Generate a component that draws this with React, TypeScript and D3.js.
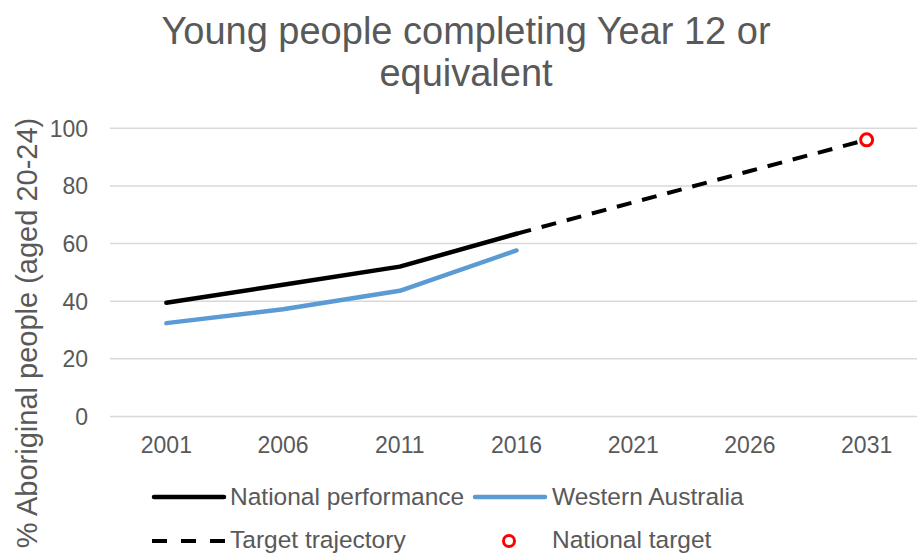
import React from 'react';
import * as d3 from 'd3';

// chart values
const years = ['2001', '2006', '2011', '2016', '2021', '2026', '2031'];
const nationalYears = ['2001', '2006', '2011', '2016'];
const nationalPerformance = [39.5, 45.7, 52.0, 63.4];
const westernAustralia = [32.4, 37.2, 43.6, 57.6];
const targetYears = ['2016', '2021', '2026', '2031'];
const targetTrajectory = [63.4, 74.3, 85.2, 96.0];
const nationalTargetYear = '2031';
const nationalTarget = 96.0;
const yTicks = [0, 20, 40, 60, 80, 100];

const titleLines = ['Young people completing Year 12 or', 'equivalent'];
const yTitle = '% Aboriginal people (aged 20-24)';

const width = 917;
const height = 555;
const font = '"Liberation Sans", Arial, sans-serif';
const textColor = '#595959';

const App: React.FC = () => {
  const x = d3.scaleBand<string>().domain(years).range([108, 925]);
  const y = d3.scaleLinear().domain([0, 100]).range([416.5, 128.3]);
  const cx = (yr: string) => (x(yr) ?? 0) + x.bandwidth() / 2;

  const line = d3.line<[string, number]>()
    .x(d => cx(d[0]))
    .y(d => y(d[1]));

  const natPath = line(nationalYears.map((yr, i) => [yr, nationalPerformance[i]]));
  const waPath = line(nationalYears.map((yr, i) => [yr, westernAustralia[i]]));
  const targetPath = line(targetYears.map((yr, i) => [yr, targetTrajectory[i]]));

  return (
    <svg
      width={width}
      height={height}
      style={{ position: 'absolute', left: 0, top: 0, background: '#fff' }}
      fontFamily={font}
    >
      {/* title */}
      <text x={466} y={44} textAnchor="middle" fontSize={38} fill={textColor}>{titleLines[0]}</text>
      <text x={466} y={86} textAnchor="middle" fontSize={38} fill={textColor}>{titleLines[1]}</text>

      {/* gridlines */}
      {yTicks.map(t => (
        <line key={t} x1={110} x2={width} y1={y(t)} y2={y(t)} stroke="#d9d9d9" strokeWidth={1.5} />
      ))}

      {/* y tick labels */}
      {yTicks.map(t => (
        <text key={t} x={88} y={y(t)} dy="0.36em" textAnchor="end" fontSize={23} fill={textColor}>{t}</text>
      ))}

      {/* x tick labels */}
      {years.map(yr => (
        <text key={yr} x={cx(yr)} y={453} textAnchor="middle" fontSize={23} fill={textColor}>{yr}</text>
      ))}

      {/* y axis title */}
      <text transform={`translate(37,333) rotate(-90)`} textAnchor="middle" fontSize={29} fill={textColor}>{yTitle}</text>

      {/* series */}
      <path d={targetPath ?? ''} fill="none" stroke="#000" strokeWidth={4} strokeDasharray="15,11" />
      <path d={waPath ?? ''} fill="none" stroke="#5b9bd5" strokeWidth={4.5} strokeLinecap="round" strokeLinejoin="round" />
      <path d={natPath ?? ''} fill="none" stroke="#000" strokeWidth={4.5} strokeLinecap="round" strokeLinejoin="round" />
      <circle cx={cx(nationalTargetYear)} cy={y(nationalTarget)} r={6} fill="#fff" stroke="#ff0000" strokeWidth={3} />

      {/* legend */}
      <g fontSize={24.5} fill={textColor}>
        <line x1={154} x2={224} y1={497} y2={497} stroke="#000" strokeWidth={4.5} strokeLinecap="round" />
        <text x={230} y={505}>National performance</text>
        <line x1={475} x2={545} y1={497} y2={497} stroke="#5b9bd5" strokeWidth={4.5} strokeLinecap="round" />
        <text x={552} y={505}>Western Australia</text>
        <line x1={152} x2={226} y1={541} y2={541} stroke="#000" strokeWidth={4} strokeDasharray="15,14" />
        <text x={230} y={548}>Target trajectory</text>
        <circle cx={509} cy={541} r={5.5} fill="#fff" stroke="#ff0000" strokeWidth={3} />
        <text x={552} y={548}>National target</text>
      </g>
    </svg>
  );
};

export default App;
